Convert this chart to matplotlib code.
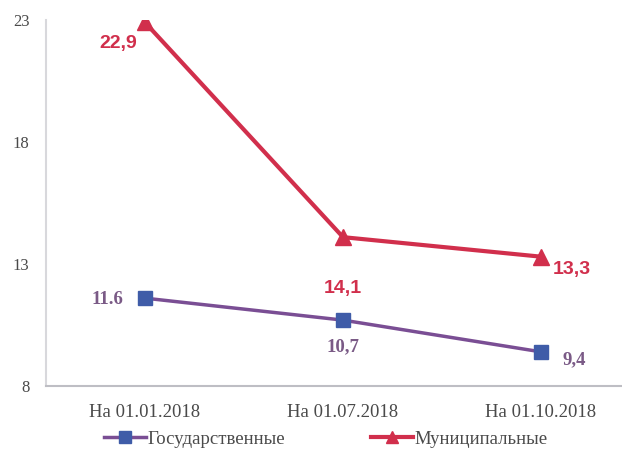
import matplotlib
matplotlib.use("Agg")
import matplotlib.pyplot as plt
from matplotlib.lines import Line2D

categories = ["На 01.01.2018", "На 01.07.2018", "На 01.10.2018"]
state_values = [11.6, 10.7, 9.4]
municipal_values = [22.9, 14.1, 13.3]
state_labels = ["11.6", "10,7", "9,4"]
municipal_labels = ["22,9", "14,1", "13,3"]
yticks = [8, 13, 18, 23]

purple = "#7A4E94"
blue_fill = "#3F5CA8"
red = "#D12F4C"
grey_text = "#4A4A4A"
serif = ["Liberation Serif", "DejaVu Serif"]

W, H = 622, 450
fig = plt.figure(figsize=(W / 100, H / 100), dpi=100)
left, right, top, bottom = 46, 640, 20, 386
ax = fig.add_axes([left / W, 1 - bottom / H, (right - left) / W, (bottom - top) / H])

x = list(range(len(categories)))
ax.plot(x, state_values, color=purple, lw=2.5, marker="s", ms=10,
        mfc=blue_fill, mec=blue_fill, zorder=3)
ax.plot(x, municipal_values, color=red, lw=3, marker="^", ms=12,
        mfc=red, mec=red, zorder=3)

ax.set_xlim(-0.5, 2.5)
ax.set_ylim(8, 23)
ax.set_yticks(yticks)
ax.set_xticks(x)
ax.set_xticklabels(categories, family=serif, fontsize=13.5, color=grey_text)
ax.set_yticklabels([str(t) for t in yticks], family=serif, fontsize=12, color=grey_text)
ax.tick_params(axis="both", length=0)
ax.tick_params(axis="x", pad=13)
ax.tick_params(axis="y", pad=12)

for s in ["top", "right"]:
    ax.spines[s].set_visible(False)
ax.spines["left"].set_color("#D8D8DC")
ax.spines["left"].set_linewidth(1.5)
ax.spines["bottom"].set_color("#BEBEC4")
ax.spines["bottom"].set_linewidth(1.5)

# value labels
state_offsets = [(-27, -1), (0, -19), (24, -6)]
for xi, v, lab, (dx, dy) in zip(x, state_values, state_labels, state_offsets):
    ax.annotate(lab, (xi, v), xytext=(dx, dy), textcoords="offset points",
                ha="center", va="center", family=serif, fontsize=13.5,
                fontweight="bold", color="#7A5A86")

mun_offsets = [(-19, -15), (0, -37), (22, -9)]
for xi, v, lab, (dx, dy) in zip(x, municipal_values, municipal_labels, mun_offsets):
    ax.annotate(lab, (xi, v), xytext=(dx, dy), textcoords="offset points",
                ha="center", va="center", family=["Liberation Sans", "DejaVu Sans"],
                fontsize=14, fontweight="bold", color=red)

handles = [
    Line2D([0], [0], color=purple, lw=2.5, marker="s", ms=8, mfc=blue_fill, mec=blue_fill),
    Line2D([0], [0], color=red, lw=3, marker="^", ms=9, mfc=red, mec=red),
]
fig.legend(handles, ["Государственные", "Муниципальные"], loc="center",
           bbox_to_anchor=(326 / W, 1 - 439 / H), ncol=2, frameon=False,
           prop={"family": serif, "size": 13.5}, labelcolor=grey_text,
           handlelength=2.2, handletextpad=0.1, columnspacing=4.6,
           borderpad=0.2)

fig.savefig("out.png", dpi=100)
